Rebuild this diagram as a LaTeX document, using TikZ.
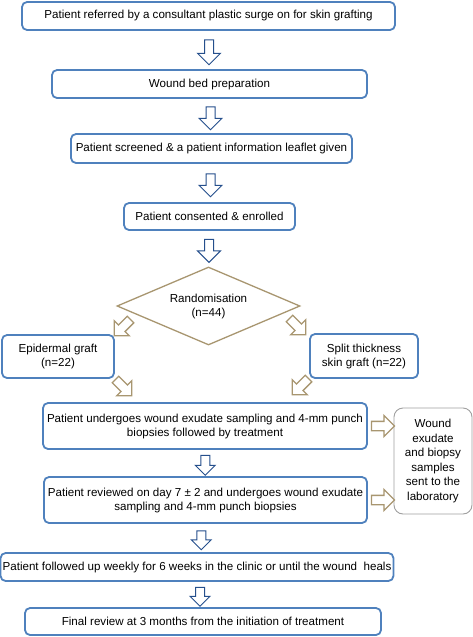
\documentclass[tikz,border=0pt]{standalone}
\usepackage{fontspec}
\setmainfont{Liberation Sans}
\usetikzlibrary{shapes,shapes.arrows,positioning,calc}

\definecolor{boxblue}{RGB}{79,129,189}
\definecolor{arrowblue}{RGB}{37,79,140}
\definecolor{tanline}{RGB}{168,150,112}
\definecolor{sidegray}{RGB}{160,160,160}

\tikzset{
  stepbox/.style={draw=boxblue, line width=1.8pt, rounded corners=5pt, fill=white,
    align=center, inner sep=2pt, font=\fontsize{11.6}{14}\selectfont},
  labbox/.style={draw=sidegray, line width=0.9pt, rounded corners=9pt, fill=white,
    align=center, inner sep=2pt, font=\fontsize{11.6}{14.5}\selectfont},
  randbox/.style={diamond, aspect=2.35, draw=tanline, line width=1.3pt, fill=white,
    align=center, inner sep=0pt, font=\fontsize{11.6}{14}\selectfont},
  bluearrow/.style={single arrow, draw=arrowblue, fill=white, line width=1pt,
    minimum height=23pt, minimum width=23pt, single arrow head extend=7pt,
    single arrow head indent=0pt, inner xsep=0pt, inner ysep=4pt, rotate=-90},
  tanarrow/.style={single arrow, draw=tanline, fill=white, line width=1.3pt,
    minimum height=23pt, minimum width=20pt, single arrow head extend=6pt,
    single arrow head indent=0pt, inner xsep=0pt, inner ysep=4pt},
}

\begin{document}
\begin{tikzpicture}[x=1pt, y=-1pt]
  \useasboundingbox (0,0) rectangle (473,637);

  % main steps
  \node[stepbox, minimum width=373pt, minimum height=28pt] (refer) at (208.5,16)
    {Patient referred by a consultant plastic surge on for skin grafting};
  \node[stepbox, minimum width=315pt, minimum height=28pt] (prep) at (209.5,84)
    {Wound bed preparation};
  \node[stepbox, minimum width=281pt, minimum height=29pt] (screen) at (211.5,148.5)
    {Patient screened \& a patient information leaflet given};
  \node[stepbox, minimum width=171pt, minimum height=27pt] (consent) at (209.5,216.5)
    {Patient consented \& enrolled};

  % randomisation
  \node[randbox, minimum width=183pt, minimum height=78pt] (rand) at (208.5,306)
    {Randomisation\\(n=44)};
  \node[stepbox, minimum width=112pt, minimum height=43pt] (epi) at (58,356.5)
    {Epidermal graft\\(n=22)};
  \node[stepbox, minimum width=108pt, minimum height=44pt] (split) at (364,356)
    {Split thickness\\skin graft (n=22)};

  % sampling
  \node[stepbox, minimum width=324pt, minimum height=46pt] (sample) at (205,426)
    {Patient undergoes wound exudate sampling and 4-mm punch\\biopsies followed by treatment};
  \node[stepbox, minimum width=323pt, minimum height=46pt] (review) at (205.5,500)
    {Patient reviewed on day 7 ± 2 and undergoes wound exudate\\sampling and 4-mm punch biopsies};
  \node[labbox, minimum width=78pt, minimum height=106pt] (lab) at (433,461)
    {Wound\\exudate\\and biopsy\\samples\\sent to the\\laboratory};

  % follow up
  \node[stepbox, minimum width=390pt, minimum height=28pt] (follow) at (197,567)
    {Patient followed up weekly for 6 weeks in the clinic or until the wound\ \ heals};
  \node[stepbox, minimum width=356pt, minimum height=27pt] (final) at (203,621.5)
    {Final review at 3 months from the initiation of treatment};

  % block arrows
  \node[bluearrow, minimum height=25pt] (a1) at ($(refer.south)!0.5!(prep.north)$) {};
  \node[bluearrow] (a2) at ($(prep.south)!0.5!(screen.north)$) {};
  \node[bluearrow] (a3) at ($(screen.south)!0.5!(consent.north)$) {};
  \node[bluearrow] (a4) at ($(consent.south)!0.5!(rand.north)$) {};
  \node[tanarrow, rotate=225] (a5) at (124,326) {};
  \node[tanarrow, rotate=-45] (a6) at (296,325) {};
  \node[tanarrow, rotate=-45] (a7) at (122,386) {};
  \node[tanarrow, rotate=225] (a8) at (302,385) {};
  \node[bluearrow, minimum height=20pt, minimum width=19pt, single arrow head extend=5.5pt]
    (a9) at ($(sample.south)!0.5!(review.north)$) {};
  \node[tanarrow] (a10) at ($(sample.east)!0.5!(lab.west |- sample.east)$) {};
  \node[tanarrow] (a11) at ($(review.east)!0.5!(lab.west |- review.east)$) {};
  \node[bluearrow, minimum height=19pt, minimum width=19pt, single arrow head extend=5.5pt]
    (a12) at ($(review.south)!0.5!(follow.north)$) {};
  \node[bluearrow, minimum height=19pt, minimum width=19pt, single arrow head extend=5.5pt]
    (a13) at ($(follow.south)!0.5!(final.north)$) {};
\end{tikzpicture}
\end{document}
